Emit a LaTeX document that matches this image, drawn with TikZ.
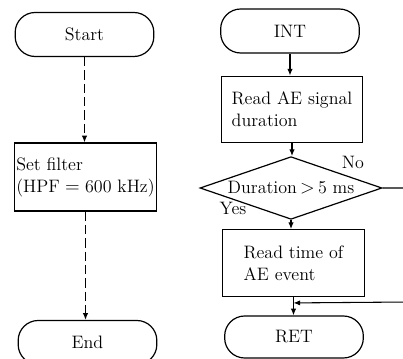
\documentclass[tikz,border=0pt]{standalone}
\usetikzlibrary{shapes.geometric,arrows.meta}

\tikzset{
  terminal/.style={draw, rounded corners=15pt, minimum width=104pt, minimum height=33pt, inner sep=0pt},
  procbox/.style={draw, align=left, inner sep=0pt, minimum width=106pt, minimum height=50pt},
  decide/.style={draw, diamond, aspect=3, inner sep=0pt, minimum width=136.5pt, minimum height=47pt},
  flow/.style={-{Latex[length=5pt,width=4pt]}, line width=0.8pt},
  dashflow/.style={flow, dash pattern=on 7pt off 3pt},
}

\begin{document}
\begin{tikzpicture}[x=0.75pt, y=-0.75pt, line width=0.9pt,
    font=\fontsize{13.5}{16.5}\selectfont]
        \path[use as bounding box, clip] (0,0) rectangle (403,359);

        % Main program
        \node[terminal] (start) at (84.5,34.5) {Start};
        \node[procbox, minimum height=51pt] (filter) at (85.5,177) {Set filter\\(HPF${}={}$600 kHz)};
        \node[terminal] (end) at (87.5,342.5) {End};

        \draw[dashflow] (start.south) -- (start.south |- filter.north);
        \draw[dashflow] (filter.south) -- (filter.south |- end.north);

        % Interrupt routine
        \node[terminal] (int) at (290,31) {INT};
        \node[procbox] (read) at (292,109.5) {Read AE signal\\duration};
        \node[decide] (dec) at (291,188) {Duration$\,>\,$5 ms};
        \node[procbox] (readt) at (293.5,263) {Read time of\\AE event};
        \node[terminal, minimum height=31.5pt] (ret) at (294,337) {RET};

        \node (lblno) at (353,162) {No};
        \node (lblyes) at (233,208) {Yes};

        \draw[flow] (int.south) -- (int.south |- read.north);
        \draw[flow] (read.south) -- (read.south |- dec.north);
        \draw[flow] (dec.south) -- (dec.south |- readt.north);
        \draw[flow] (readt.south) -- (readt.south |- ret.north);

        % Skip branch
        \path (readt.south) ++(0,6) coordinate (join);
        \coordinate (turn) at (408,302);
        \draw[flow] (dec.east) -| (turn) -- (join);
    \end{tikzpicture}
\end{document}
